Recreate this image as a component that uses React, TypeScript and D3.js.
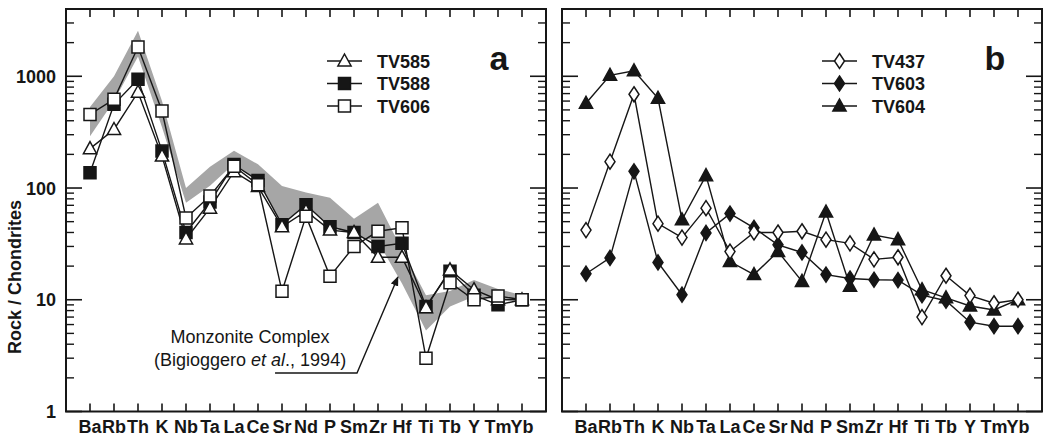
import React from 'react';
import * as d3 from 'd3';

// element order on the x axis
const ELEMENTS = ['Ba', 'Rb', 'Th', 'K', 'Nb', 'Ta', 'La', 'Ce', 'Sr', 'Nd', 'P', 'Sm', 'Zr', 'Hf', 'Ti', 'Tb', 'Y', 'Tm', 'Yb'];

// panel a samples
const TV585 = [225, 334, 720, 193, 35, 66, 140, 103, 45, 62, 42, 40, 24, 24, 8.5, 18.5, 12.3, 10, 10];
const TV588 = [137, 561, 940, 214, 40, 75, 162, 117, 47, 71, 45, 40, 30, 32, 8.7, 18, 11, 9, 10];
const TV606 = [456, 622, 1830, 489, 54, 85, 157, 107, 11.9, 56, 16.2, 30, 41, 44, 3.0, 14.2, 10, 10.8, 10];

// Monzonite Complex field (Bigioggero et al., 1994)
const FIELD_UPPER = [530, 1000, 2550, 600, 100, 155, 215, 163, 104, 91, 82, 53, 74, 28, 11, 12, 15, 12.5, 11];
const FIELD_LOWER = [290, 600, 1500, 350, 74, 105, 165, 115, 48, 72, 46, 38, 33, 14, 5.3, 8.7, 10.7, 10, 10];

// panel b samples
const TV437 = [42, 172, 690, 48, 36, 66, 27, 40, 40, 41, 34.5, 32, 23, 24, 7.0, 16.4, 10.9, 9.3, 10];
const TV603 = [17.1, 23.7, 141, 21.6, 11.1, 39.6, 59, 44, 31, 26.5, 16.8, 15.5, 15.1, 15, 11, 9.8, 6.3, 5.8, 5.8];
const TV604 = [573, 1020, 1120, 635, 52, 129, 22, 16.8, 27, 14.6, 61, 13.2, 38, 34.5, 12.3, 10.4, 8.8, 8.1, 10];

const Y_LABELS = [1, 10, 100, 1000];

// annotation anchor (element index, value)
const NOTE_TEXT_AT: [number, number] = [7.67, 4.1];
const NOTE_LINE: [number, number][] = [[8.71, 2.21], [12.125, 2.21], [13.83, 16]];

const FONT = '"Liberation Sans", Arial, Helvetica, sans-serif';
const INK = '#161616';
const FIELD = '#a6a6a6';

const TOP = 9;
const BOTTOM = 411.5;
const PANEL_W = 480;

const y = d3.scaleLog().domain([1, 4000]).range([BOTTOM, TOP]);

type Shape = 'triangle' | 'square' | 'diamond';
interface Series { name: string; values: number[]; shape: Shape; filled: boolean; }

const shapePath = (s: Shape) => {
  if (s === 'triangle') return 'M0,-7L6.6,5L-6.6,5Z';
  if (s === 'square') return 'M-6,-6H6V6H-6Z';
  return 'M0,-7.5L5,0L0,7.5L-5,0Z';
};

const Marker = ({ x, yy, s }: { x: number; yy: number; s: Series }) => (
  <path d={shapePath(s.shape)} transform={`translate(${x},${yy})`}
    fill={s.filled ? INK : '#fff'} stroke={INK} strokeWidth={1.5} />
);

const minorTicks: number[] = [];
[1, 10, 100, 1000].forEach(d => {
  for (let k = 2; k <= 9; k++) if (k * d < 4000) minorTicks.push(k * d);
});

function Panel({ left, legend, draw, tag, legendX, showYLabels, field }: {
  left: number; legend: Series[]; draw: Series[]; tag: string; legendX: number;
  showYLabels?: boolean; field?: boolean;
}) {
  const x = d3.scaleLinear().domain([0, ELEMENTS.length + 1]).range([left, left + PANEL_W]);
  const line = d3.line<number>().x((_, i) => x(i + 1)).y(v => y(v));
  const area = d3.area<number>()
    .x((_, i) => x(i + 1))
    .y0((_, i) => y(FIELD_LOWER[i]))
    .y1(v => y(v));
  const right = left + PANEL_W;

  return (
    <g>
      {field && <path d={area(FIELD_UPPER) || ''} fill={FIELD} stroke="none" />}

      {field && (
        <g>
          <text x={x(NOTE_TEXT_AT[0])} y={y(NOTE_TEXT_AT[1])} textAnchor="middle" fontSize={18} fill={INK} fontFamily={FONT}>
            Monzonite Complex
          </text>
          <text x={x(NOTE_TEXT_AT[0])} y={y(NOTE_TEXT_AT[1]) + 23} textAnchor="middle" fontSize={18} fill={INK} fontFamily={FONT}>
            (Bigioggero <tspan fontStyle="italic">et al</tspan>., 1994)
          </text>
          <path d={d3.line<[number, number]>().x(d => x(d[0])).y(d => y(d[1]))(NOTE_LINE) || ''}
            fill="none" stroke={INK} strokeWidth={1.4} markerEnd="url(#arrow)" />
        </g>
      )}

      {draw.map(s => (
        <g key={s.name}>
          <path d={line(s.values) || ''} fill="none" stroke={INK} strokeWidth={1.4} />
          {s.values.map((v, i) => <Marker key={i} x={x(i + 1)} yy={y(v)} s={s} />)}
        </g>
      ))}

      {/* frame */}
      <rect x={left} y={TOP} width={PANEL_W} height={BOTTOM - TOP} fill="none" stroke={INK} strokeWidth={2} />

      {/* x ticks top + bottom */}
      {ELEMENTS.map((el, i) => (
        <g key={el}>
          <line x1={x(i + 1)} x2={x(i + 1)} y1={BOTTOM} y2={BOTTOM - 8} stroke={INK} strokeWidth={1.6} />
          <line x1={x(i + 1)} x2={x(i + 1)} y1={TOP} y2={TOP + 8} stroke={INK} strokeWidth={1.6} />
          <text x={x(i + 1)} y={433} textAnchor="middle" fontSize={18} fontWeight="bold" fill={INK} fontFamily={FONT}>{el}</text>
        </g>
      ))}

      {/* y ticks both sides */}
      {Y_LABELS.map(v => (
        <g key={v}>
          <line x1={left} x2={left + 16} y1={y(v)} y2={y(v)} stroke={INK} strokeWidth={1.6} />
          <line x1={right} x2={right - 16} y1={y(v)} y2={y(v)} stroke={INK} strokeWidth={1.6} />
          {showYLabels && (
            <text x={left - 10} y={y(v) + 6.5} textAnchor="end" fontSize={18} fontWeight="bold" fill={INK} fontFamily={FONT}>{v}</text>
          )}
        </g>
      ))}
      {minorTicks.map(v => (
        <g key={v}>
          <line x1={left} x2={left + 8} y1={y(v)} y2={y(v)} stroke={INK} strokeWidth={1.4} />
          <line x1={right} x2={right - 8} y1={y(v)} y2={y(v)} stroke={INK} strokeWidth={1.4} />
        </g>
      ))}

      {/* legend */}
      {legend.map((s, i) => {
        const ly = 61 + i * 22.5;
        return (
          <g key={s.name}>
            <line x1={legendX} x2={legendX + 35} y1={ly} y2={ly} stroke={INK} strokeWidth={1.4} />
            <Marker x={legendX + 17.5} yy={ly} s={s} />
            <text x={legendX + 50} y={ly + 6.5} fontSize={18} fontWeight="bold" fill={INK} fontFamily={FONT}>{s.name}</text>
          </g>
        );
      })}
      <text x={right - 47} y={70} textAnchor="middle" fontSize={34} fontWeight="bold" fill={INK} fontFamily={FONT}>{tag}</text>
    </g>
  );
}

export default function App() {
  const seriesA: Series[] = [
    { name: 'TV585', values: TV585, shape: 'triangle', filled: false },
    { name: 'TV588', values: TV588, shape: 'square', filled: true },
    { name: 'TV606', values: TV606, shape: 'square', filled: false },
  ];
  const seriesB: Series[] = [
    { name: 'TV437', values: TV437, shape: 'diamond', filled: false },
    { name: 'TV603', values: TV603, shape: 'diamond', filled: true },
    { name: 'TV604', values: TV604, shape: 'triangle', filled: true },
  ];

  return (
    <div style={{ position: 'fixed', left: 0, top: 0 }}>
      <svg width={1046} height={437} style={{ display: 'block', background: '#fff' }}>
        <defs>
          <marker id="arrow" viewBox="0 0 10 10" refX="9" refY="5" markerWidth="7" markerHeight="7" orient="auto">
            <path d="M0,1L10,5L0,9Z" fill={INK} />
          </marker>
        </defs>
        <Panel left={66} legend={seriesA} draw={[seriesA[1], seriesA[0], seriesA[2]]}
          tag="a" legendX={327} showYLabels field />
        <Panel left={562} legend={seriesB} draw={[seriesB[1], seriesB[2], seriesB[0]]}
          tag="b" legendX={822} />
        <text transform="translate(21,277) rotate(-90)" textAnchor="middle" fontSize={18} fontWeight="bold" fill={INK} fontFamily={FONT}>
          Rock / Chondrites
        </text>
      </svg>
    </div>
  );
}
